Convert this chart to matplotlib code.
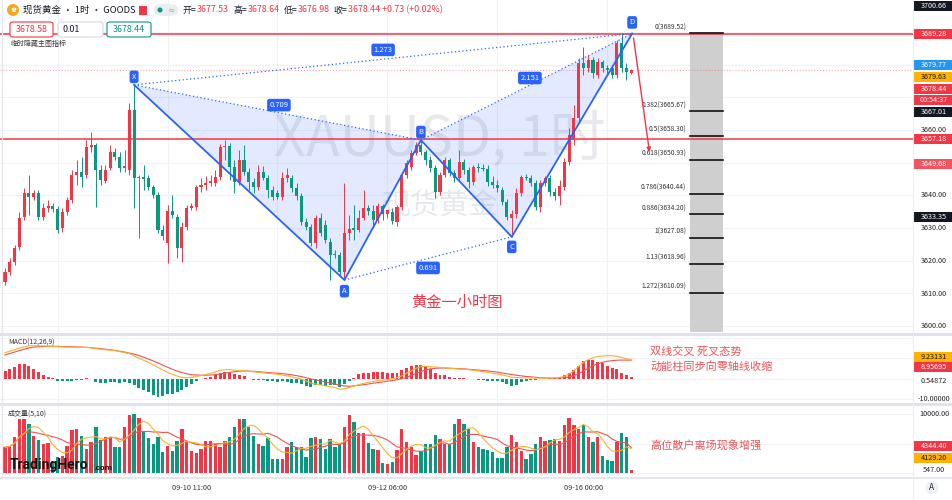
import matplotlib
matplotlib.use('Agg')
import matplotlib.pyplot as plt
from matplotlib.patches import Rectangle, FancyBboxPatch, Polygon, Ellipse
from matplotlib.lines import Line2D
import matplotlib.transforms as mtrans
import pandas as pd

plt.rcParams['font.family'] = ['Noto Sans CJK SC', 'DejaVu Sans']

W, H = 953, 500
RED = '#F23645'
GREEN = '#089981'
BLUE = '#2962FF'

# ---------------- data ----------------
opens = [3613.5, 3616.6, 3619.6, 3624.2, 3633.4, 3640.7, 3639.5, 3640.7, 3633.4, 3636.2,
         3636.8, 3635.8, 3630.0, 3634.9, 3638.6, 3646.2, 3647.2, 3646.2, 3654.8, 3655.4,
         3647.8, 3644.4, 3648.4, 3653.3, 3651.7, 3648.4, 3647.8, 3666.1, 3645.3, 3645.6,
         3645.3, 3642.6, 3640.1, 3629.4, 3625.5, 3635.2, 3633.4, 3623.9, 3630.3, 3636.2,
         3636.5, 3642.6, 3643.2, 3643.8, 3643.8, 3645.6, 3654.8, 3655.1, 3648.7, 3644.1,
         3650.8, 3647.2, 3644.1, 3642.6, 3647.2, 3645.3, 3641.7, 3640.7, 3639.5, 3645.3,
         3645.3, 3642.3, 3639.8, 3631.9, 3630.3, 3625.5, 3633.1, 3630.9, 3625.8, 3622.1,
         3621.8, 3616.6, 3628.5, 3630.0, 3629.4, 3633.1, 3636.2, 3635.2, 3632.5, 3636.8,
         3634.3, 3634.9, 3631.9, 3636.5, 3646.2, 3648.7, 3653.0, 3655.4, 3653.3, 3650.8,
         3648.4, 3641.1, 3646.2, 3650.8, 3646.9, 3645.3, 3650.2, 3647.8, 3644.1, 3648.7,
         3648.4, 3648.1, 3644.1, 3643.2, 3641.7, 3638.0, 3633.1, 3634.3, 3640.7, 3645.6,
         3645.3, 3643.8, 3636.5, 3643.8, 3645.3, 3641.1, 3639.8, 3642.6, 3650.2, 3656.9,
         3663.7, 3680.5, 3679.0, 3681.4, 3676.8, 3680.8, 3679.0, 3679.0, 3676.8, 3686.6,
         3679.0, 3677.53]
highs = [3617.8, 3620.9, 3624.8, 3634.9, 3642.3, 3646.2, 3641.7, 3641.7, 3637.7, 3638.6,
         3637.7, 3636.8, 3636.2, 3639.5, 3647.8, 3650.8, 3651.7, 3656.9, 3659.4, 3656.0,
         3649.3, 3649.3, 3655.4, 3654.5, 3653.3, 3653.9, 3668.3, 3673.8, 3646.2, 3649.3,
         3646.2, 3643.2, 3641.1, 3630.9, 3637.1, 3640.1, 3634.3, 3631.9, 3637.1, 3637.7,
         3643.2, 3645.3, 3645.9, 3646.2, 3647.8, 3655.7, 3656.9, 3656.0, 3650.8, 3653.9,
         3655.4, 3648.4, 3645.3, 3649.3, 3649.0, 3646.2, 3642.9, 3641.7, 3647.2, 3648.4,
         3646.2, 3643.8, 3640.7, 3633.1, 3631.3, 3634.0, 3634.6, 3632.5, 3627.0, 3623.3,
         3622.7, 3643.8, 3634.0, 3637.1, 3635.5, 3641.7, 3637.1, 3637.1, 3637.7, 3637.4,
         3635.5, 3636.2, 3637.1, 3647.2, 3650.8, 3653.9, 3656.3, 3656.9, 3653.9, 3652.1,
         3649.3, 3647.2, 3651.7, 3651.4, 3647.8, 3653.9, 3651.1, 3648.7, 3649.3, 3649.9,
         3649.6, 3649.3, 3645.9, 3644.7, 3642.6, 3638.9, 3635.5, 3642.3, 3646.2, 3646.6,
         3646.2, 3644.7, 3644.7, 3645.9, 3646.2, 3642.3, 3644.7, 3651.4, 3660.6, 3667.6,
         3682.0, 3685.4, 3683.0, 3682.3, 3682.0, 3681.4, 3679.9, 3679.9, 3687.5, 3689.7,
         3680.5, 3678.64]
lows = [3612.6, 3615.7, 3618.7, 3623.3, 3632.5, 3634.0, 3638.6, 3632.5, 3632.5, 3634.9,
        3634.9, 3628.5, 3628.8, 3634.0, 3637.7, 3643.2, 3642.6, 3645.3, 3653.3, 3636.5,
        3643.2, 3643.8, 3647.8, 3650.8, 3647.2, 3647.2, 3646.2, 3636.2, 3627.0, 3641.7,
        3641.7, 3639.2, 3628.5, 3626.4, 3619.3, 3633.1, 3620.9, 3619.6, 3629.4, 3635.5,
        3635.5, 3641.1, 3641.7, 3642.9, 3642.9, 3644.7, 3650.8, 3644.7, 3640.7, 3643.2,
        3646.2, 3641.7, 3640.7, 3641.7, 3644.7, 3639.2, 3638.6, 3638.9, 3638.6, 3644.1,
        3641.1, 3638.6, 3630.9, 3629.4, 3624.5, 3623.9, 3627.6, 3625.5, 3614.1, 3620.9,
        3615.7, 3614.1, 3626.4, 3626.4, 3628.8, 3632.5, 3634.0, 3630.9, 3631.6, 3632.5,
        3633.1, 3631.3, 3630.7, 3635.5, 3645.3, 3647.8, 3652.4, 3652.4, 3649.3, 3647.2,
        3639.2, 3640.1, 3645.6, 3645.9, 3644.1, 3644.7, 3646.6, 3642.3, 3643.2, 3647.2,
        3647.5, 3642.9, 3642.3, 3641.1, 3637.1, 3632.5, 3627.3, 3633.1, 3639.8, 3644.7,
        3642.9, 3635.5, 3634.9, 3642.9, 3639.8, 3638.6, 3637.1, 3641.7, 3649.3, 3655.4,
        3662.5, 3676.8, 3677.7, 3675.9, 3675.9, 3677.7, 3677.1, 3675.9, 3675.9, 3677.7,
        3675.3, 3676.98]
closes = [3616.6, 3619.6, 3623.9, 3633.1, 3640.7, 3639.5, 3640.7, 3633.4, 3636.2, 3636.8,
          3635.8, 3629.4, 3634.9, 3638.6, 3646.2, 3647.2, 3645.6, 3654.8, 3655.4, 3647.8,
          3644.7, 3647.8, 3653.3, 3651.7, 3648.4, 3649.0, 3666.1, 3645.3, 3645.6, 3645.0,
          3642.6, 3640.1, 3629.4, 3627.6, 3635.2, 3634.0, 3623.9, 3630.3, 3636.2, 3636.8,
          3642.6, 3643.2, 3643.8, 3644.4, 3645.6, 3654.8, 3655.1, 3648.7, 3644.1, 3650.8,
          3647.2, 3644.1, 3642.6, 3647.2, 3645.3, 3641.7, 3639.5, 3639.5, 3645.3, 3646.2,
          3642.3, 3639.8, 3631.9, 3630.3, 3625.5, 3633.1, 3628.5, 3626.4, 3621.8, 3621.8,
          3616.6, 3628.5, 3629.7, 3629.4, 3633.1, 3636.2, 3635.2, 3632.5, 3636.8, 3634.3,
          3635.5, 3632.2, 3636.5, 3646.2, 3649.9, 3653.0, 3655.4, 3653.3, 3650.8, 3648.4,
          3641.1, 3646.2, 3650.8, 3646.9, 3645.3, 3650.2, 3647.8, 3644.1, 3648.7, 3648.4,
          3648.1, 3644.1, 3643.2, 3642.3, 3638.0, 3633.4, 3634.3, 3640.7, 3645.6, 3645.3,
          3643.8, 3636.5, 3643.8, 3645.3, 3641.1, 3639.8, 3642.9, 3650.2, 3658.5, 3663.7,
          3680.5, 3679.0, 3681.4, 3677.4, 3680.8, 3679.0, 3678.4, 3676.8, 3686.6, 3679.0,
          3677.7, 3678.44]
volumes = [4370, 4650, 6200, 9250, 9250, 8390, 6380, 5630, 4940, 5060,
           1780, 2640, 2930, 4650, 7240, 7530, 6380, 4080, 5230, 7820,
           5630, 6090, 5970, 4370, 4370, 7820, 9830, 10110, 9420, 6950,
           5970, 4940, 6090, 3510, 4650, 3790, 5520, 7530, 5520, 3790,
           3330, 4080, 5520, 5520, 4940, 4370, 5520, 6090, 7820, 9250,
           9250, 7820, 6380, 4940, 4650, 5970, 2360, 2360, 2360, 4480,
           5230, 4370, 4370, 2640, 5970, 6090, 5800, 4080, 5800, 4370,
           4940, 7820, 9830, 8680, 6840, 6840, 5110, 4080, 3960, 1610,
           1490, 1780, 3910, 7530, 5230, 4370, 3100, 3790, 4940, 4940,
           6550, 5800, 4940, 4940, 8390, 9250, 8280, 7410, 5230, 4480,
           4080, 3960, 3510, 2470, 2470, 4370, 6490, 5340, 3790, 2360,
           3220, 4940, 6200, 5520, 5630, 5800, 5520, 8100, 9420, 8100,
           7530, 8220, 6090, 5230, 6200, 2930, 2240, 1950, 5230, 6840,
           6090, 547]
macd_hist = [3.9, 4.6, 5.6, 7.1, 7.1, 6.2, 4.6, 3.1, 1.7, 0.9,
             0.2, -1.2, -1.3, -1.4, -1.0, -0.5, -0.8, 0.3, -0.3, -1.8,
             -2.0, -2.0, -1.8, -1.8, -2.2, -1.6, -2.3, -3.0, -4.8, -5.6,
             -6.6, -8.2, -8.8, -8.5, -7.8, -7.5, -6.7, -5.5, -4.2, -2.5,
             -1.2, -0.4, 0.2, 0.8, 1.7, 2.9, 3.4, 2.9, 2.2, 1.7,
             1.4, -0.3, -0.5, -0.8, -0.9, -1.2, -1.2, -1.5, -1.3, -1.6,
             -2.0, -2.2, -2.5, -3.5, -4.0, -3.2, -3.0, -3.5, -3.0, -3.0,
             -4.0, -2.8, -1.0, 0.3, 2.2, 2.9, 2.9, 3.4, 3.4, 3.2,
             2.9, 2.9, 2.5, 4.2, 5.1, 6.2, 6.7, 6.7, 6.2, 4.6,
             2.9, 1.7, 1.7, 0.9, 0.3, 0.2, 0.3, -0.2, -0.3, -0.5,
             -0.8, -1.0, -1.2, -1.4, -1.6, -2.8, -3.8, -3.4, -1.6, -1.2,
             -0.9, -0.6, -0.4, -0.2, 0.1, 0.2, 0.3, 1.7, 2.5, 4.2,
             5.9, 8.4, 9.2, 8.9, 7.9, 7.5, 5.9, 5.1, 4.6, 2.9,
             1.7, 0.55]
macd_dif = [12.6, 13.3, 14.0, 14.8, 15.4, 15.9, 16.0, 16.0, 15.9, 15.8,
            15.7, 15.5, 15.4, 15.3, 15.3, 15.3, 15.2, 15.2, 15.0, 14.6,
            14.3, 14.0, 13.9, 13.6, 13.1, 12.6, 12.2, 11.0, 9.9, 8.9,
            7.8, 6.7, 5.4, 4.2, 3.0, 2.0, 1.2, 0.6, 0.3, 0.5,
            1.0, 1.4, 1.9, 2.6, 3.2, 4.0, 4.3, 4.3, 4.1, 3.9,
            3.8, 3.5, 3.3, 3.0, 2.8, 2.5, 2.3, 2.0, 1.7, 1.3,
            0.8, 0.3, -0.4, -1.2, -2.2, -2.7, -3.1, -3.6, -4.0, -4.4,
            -5.3, -5.0, -4.4, -3.7, -3.0, -2.4, -1.9, -1.5, -1.1, -0.8,
            -0.5, -0.1, 0.4, 1.3, 2.6, 3.8, 5.0, 5.8, 6.0, 5.8,
            5.6, 5.4, 5.2, 5.0, 4.8, 4.6, 4.5, 4.3, 4.0, 3.7,
            3.3, 3.0, 2.6, 2.2, 1.8, 1.2, 0.6, 0.5, 0.4, 0.4,
            0.3, 0.2, 0.2, 0.2, 0.2, 0.3, 0.5, 1.1, 2.2, 3.7,
            5.9, 7.9, 9.2, 10.1, 10.7, 11.0, 11.1, 11.1, 10.8, 10.2,
            9.7, 9.23]
macd_dea = [11.5, 12.2, 12.9, 13.6, 14.3, 14.9, 15.3, 15.5, 15.6, 15.7,
            15.7, 15.7, 15.6, 15.6, 15.5, 15.4, 15.3, 15.2, 15.0, 14.8,
            14.6, 14.3, 14.0, 13.7, 13.3, 12.9, 12.4, 11.9, 11.2, 10.4,
            9.5, 8.6, 7.6, 6.5, 5.5, 4.5, 3.6, 2.9, 2.3, 1.9,
            1.7, 1.6, 1.6, 1.7, 1.9, 2.2, 2.6, 3.0, 3.3, 3.6,
            3.7, 3.6, 3.5, 3.3, 3.1, 2.9, 2.7, 2.6, 2.4, 2.1,
            1.8, 1.4, 0.9, 0.4, -0.2, -0.7, -1.2, -1.7, -2.2, -2.7,
            -3.2, -3.6, -3.8, -3.6, -3.3, -3.0, -2.7, -2.3, -2.0, -1.7,
            -1.3, -1.0, -0.6, -0.1, 0.6, 1.5, 2.5, 3.4, 4.2, 4.7,
            5.0, 5.1, 5.1, 5.0, 4.9, 4.8, 4.7, 4.5, 4.3, 4.1,
            3.9, 3.7, 3.4, 3.1, 2.7, 2.3, 1.9, 1.6, 1.3, 1.0,
            0.8, 0.6, 0.4, 0.3, 0.2, 0.2, 0.3, 0.4, 0.8, 1.4,
            2.3, 3.6, 5.0, 6.2, 7.2, 7.9, 8.4, 8.7, 8.9, 9.0,
            9.0, 8.96]

time_tick_idx = [39, 80, 121]
time_tick_labels = ['09-10 11:00', '09-12 06:00', '09-16 00:00']
day_grid_idx = [11, 34, 57, 80, 103, 126]

pattern_names = ['X', 'A', 'B', 'C', 'D']
pattern_idx = [27, 71, 87, 106, 131.2]
pattern_price = [3673.8, 3614.1, 3656.9, 3627.3, 3689.5]
pattern_label_offset = [5.8, -8.0, 5.8, -7.2, 8.0]

ratio_texts = ['1.273', '0.709', '0.691', '2.151']
ratio_idx = [79.1, 57.3, 88.5, 109.8]
ratio_price = [3684.5, 3667.6, 3617.8, 3675.9]

fib_names = ['0', '0.382', '0.5', '0.618', '0.786', '0.886', '1', '1.13', '1.272']
fib_prices = [3689.52, 3665.67, 3658.30, 3650.93, 3640.44, 3634.20, 3627.08, 3618.96, 3610.09]
fib_span = [143.3, 150.2]

red_levels = [3689.28, 3657.18]
last_price = 3678.44
arrow_idx = [131.4, 134.9]
arrow_price = [3689.0, 3652.4]

price_ticks = [3600, 3610, 3620, 3630, 3640, 3660]

header_ohlc = [('开=', '3677.53'), ('高=', '3678.64'), ('低=', '3676.98'),
               ('收=', '3678.44 +0.73 (+0.02%)')]

# ---------------- figure ----------------
fig = plt.figure(figsize=(W / 100, H / 100), dpi=100)
fig.patch.set_facecolor('white')


def rect(x0, y0, x1, y1):
    return [x0 / W, 1 - y1 / H, (x1 - x0) / W, (y1 - y0) / H]


XL = (-1.05, 189.95)
ax_p = fig.add_axes(rect(0, 0, 913, 332))
ax_m = fig.add_axes(rect(0, 335, 913, 403))
ax_v = fig.add_axes(rect(0, 405, 913, 477))
for a in (ax_p, ax_m, ax_v):
    a.set_xlim(*XL)
    a.set_axis_off()
ax_p.set_ylim(3598.2, 3699.76)
ax_m.set_ylim(-11.95, 21.22)
ax_v.set_ylim(-726, 11605)

GRID = '#f0f2f7'
for a in (ax_p, ax_m, ax_v):
    for gi in day_grid_idx:
        a.axvline(gi, color=GRID, lw=0.8, zorder=0)
for p in range(3600, 3700, 10):
    ax_p.axhline(p, color=GRID, lw=0.8, zorder=0)
for m in (-10, 0, 10, 20):
    ax_m.axhline(m, color=GRID, lw=0.8, zorder=0)
for v in (0, 5000, 10000):
    ax_v.axhline(v, color=GRID, lw=0.8, zorder=0)

n = len(closes)
idx = list(range(n))
cols = [RED if closes[i] >= opens[i] else GREEN for i in idx]

# watermark
ax_p.text(0.482, 0.578, 'XAUUSD, 1时', transform=ax_p.transAxes, ha='center', va='center',
          fontsize=40, color='#c9cbd2', alpha=0.42, zorder=0)
ax_p.text(0.482, 0.383, '现货黄金', transform=ax_p.transAxes, ha='center', va='center',
          fontsize=21, color='#c9cbd2', alpha=0.42, zorder=0)

# harmonic pattern fills
ax_p.add_patch(Polygon(list(zip(pattern_idx[0:3], pattern_price[0:3])), closed=True,
                       fc=BLUE, alpha=0.13, ec='none', zorder=1))
ax_p.add_patch(Polygon(list(zip(pattern_idx[2:5], pattern_price[2:5])), closed=True,
                       fc=BLUE, alpha=0.13, ec='none', zorder=1))

# candles
ax_p.vlines(idx, lows, highs, colors=cols, lw=0.7, zorder=3)
bodies = [max(abs(closes[i] - opens[i]), 0.25) for i in idx]
bottoms = [min(closes[i], opens[i]) for i in idx]
ax_p.bar(idx, bodies, bottom=bottoms, width=0.64, color=cols, zorder=3)

# pattern lines
ax_p.plot(pattern_idx, pattern_price, color=BLUE, lw=1.3, zorder=4)
dots = (0, (1, 2))
for a_, b_ in ((0, 2), (1, 3), (2, 4), (0, 4)):
    ax_p.plot([pattern_idx[a_], pattern_idx[b_]], [pattern_price[a_], pattern_price[b_]],
              color=BLUE, lw=0.9, ls=dots, zorder=4)
for nm, xi, yi, off in zip(pattern_names, pattern_idx, pattern_price, pattern_label_offset):
    ax_p.annotate(nm, (xi, yi), xytext=(0, off), textcoords='offset points', ha='center',
                  va='center', fontsize=5.5, color='white', zorder=6,
                  bbox=dict(boxstyle='round,pad=0.3', fc=BLUE, ec='none'))
for t, xi, yi in zip(ratio_texts, ratio_idx, ratio_price):
    ax_p.text(xi, yi, t, ha='center', va='center', fontsize=5.5, color='white', zorder=6,
              bbox=dict(boxstyle='round,pad=0.3', fc=BLUE, ec='none'))

# horizontal levels
for lv in red_levels:
    ax_p.axhline(lv, color=RED, lw=1.1, zorder=2)
ax_p.axhline(last_price, color=RED, lw=0.7, ls=(0, (1, 2)), alpha=0.5, zorder=2)

# fib tool
ax_p.add_patch(Rectangle((fib_span[0], 3598.2), fib_span[1] - fib_span[0],
                         fib_prices[0] - 3598.2, fc='#cfcfcf', ec='none', zorder=1))
for nm, fp in zip(fib_names, fib_prices):
    ax_p.plot(fib_span, [fp, fp], color='#111111', lw=1.2, zorder=2)
    ax_p.annotate(f'{nm}({fp:.2f})', (fib_span[0] - 0.8, fp), xytext=(0, 1.5),
                  textcoords='offset points', ha='right', va='bottom', fontsize=4.8,
                  color='#333333')

# arrow
ax_p.annotate('', xy=(arrow_idx[1], arrow_price[1]), xytext=(arrow_idx[0], arrow_price[0]),
              arrowprops=dict(arrowstyle='-|>', color=RED, lw=1.0, mutation_scale=6),
              zorder=5)

ax_p.text(0.5005, 0.09, '黄金一小时图', transform=ax_p.transAxes, ha='center', va='center',
          fontsize=11, color=RED)

# MACD pane
hcols = [RED if h >= 0 else GREEN for h in macd_hist]
ax_m.bar(idx, macd_hist, width=0.62, color=hcols, zorder=2)
ax_m.plot(idx, macd_dea, color='#EF5350', lw=0.8, zorder=3)
ax_m.plot(idx, macd_dif, color='#F9B233', lw=0.8, zorder=3)

# Volume pane
vs = pd.Series(volumes, dtype=float)
ma5 = vs.rolling(5, min_periods=1).mean()
ma10 = vs.rolling(10, min_periods=1).mean()
ax_v.bar(idx, volumes, width=0.7, color=cols, zorder=2)
ax_v.plot(idx, ma10, color='#EF5350', lw=0.8, zorder=3)
ax_v.plot(idx, ma5, color='#F9B233', lw=0.8, zorder=3)

# separators
SEP = '#e0e3eb'
for yy, lw in ((333.5, 2.2), (404, 2.2), (478, 1.2)):
    fig.add_artist(Line2D([0, 1], [1 - yy / H, 1 - yy / H], transform=fig.transFigure,
                          color=SEP, lw=lw))
fig.add_artist(Line2D([913.5 / W, 913.5 / W], [0, 1], transform=fig.transFigure,
                      color='#eceef3', lw=0.8))
fig.add_artist(Line2D([2.5 / W, 2.5 / W], [1 - 478 / H, 1], transform=fig.transFigure,
                      color='#e6e8ee', lw=1.0))


# right-scale labels
def scale_label(ypx, text, bg=None, fg='#222222'):
    if bg is not None:
        fig.add_artist(Rectangle((914 / W, 1 - (ypx + 5.2) / H), 39 / W, 10.4 / H,
                                 transform=fig.transFigure, fc=bg, ec='none'))
    fig.text(934 / W, 1 - ypx / H, text, ha='center', va='center', fontsize=5.2, color=fg)


to_px = lambda p: (3699.76 - p) / 0.30581
for p in price_ticks:
    scale_label(to_px(p), f'{p:.2f}')
scale_label(6, '3700.66', '#131722', 'white')
scale_label(34, '3689.28', RED, 'white')
scale_label(65, '3679.77', '#2196F3', 'white')
scale_label(77, '3679.63', '#FFB300', '#111111')
scale_label(89, '3678.44', RED, 'white')
scale_label(100, '00:54:37', RED, 'white')
scale_label(112, '3667.01', '#131722', 'white')
scale_label(139, '3657.18', RED, 'white')
scale_label(164, '3649.68', '#F7525F', 'white')
scale_label(217, '3633.35', '#131722', 'white')
scale_label(357, '9.23131', '#FFB300', '#111111')
scale_label(367, '8.95695', RED, 'white')
scale_label(381, '0.54872')
scale_label(399, '-10.00000')
scale_label(414, '10000.00')
scale_label(446, '4344.40', RED, 'white')
scale_label(458, '4129.20', '#FFB300', '#111111')
scale_label(470, '547.00')

# time axis
tb = mtrans.blended_transform_factory(ax_v.transData, fig.transFigure)
for ti, tl in zip(time_tick_idx, time_tick_labels):
    ax_v.text(ti, 1 - 488 / H, tl, transform=tb, ha='center', va='center', fontsize=5.3,
              color='#333333', clip_on=False)
fig.add_artist(Ellipse((932 / W, 1 - 488 / H), 13 / W, 13 / H, transform=fig.transFigure,
                       fc='#eef0f4', ec='none'))
fig.text(932 / W, 1 - 488 / H, 'A', ha='center', va='center', fontsize=6, color='#222222')

# header
fig.add_artist(Ellipse((13 / W, 1 - 10 / H), 12 / W, 12 / H, transform=fig.transFigure,
                       fc='#F5A623', ec='none'))
fig.text(13 / W, 1 - 10 / H, '♚', ha='center', va='center', fontsize=5, color='white',
         family='DejaVu Sans')
fig.text(23 / W, 1 - 10 / H, '现货黄金 · 1时 · GOODS', ha='left', va='center',
         fontsize=6.8, color='#131722')
fig.add_artist(Rectangle((139 / W, 1 - 15 / H), 8 / W, 9 / H, transform=fig.transFigure,
                         fc=RED, ec='none'))
fig.add_artist(FancyBboxPatch((154 / W, 1 - 16 / H), 24 / W, 12 / H,
                              boxstyle='round,pad=0,rounding_size=0.01',
                              transform=fig.transFigure, fc='#e9ecf2', ec='none'))
fig.add_artist(Ellipse((160 / W, 1 - 10 / H), 5 / W, 5 / H, transform=fig.transFigure,
                       fc=GREEN, ec='none'))
fig.text(171 / W, 1 - 10 / H, '≈', ha='center', va='center', fontsize=6, color='#D8A23A',
         family='DejaVu Sans')

# sequential header OHLC text, measured so pieces never overlap
renderer = fig.canvas.get_renderer()
xcur = 183.0
for lab, val in header_ohlc:
    for t, c in ((lab, '#131722'), (val, RED)):
        tt = fig.text(xcur / W, 1 - 10 / H, t, ha='left', va='center', fontsize=6.4, color=c)
        bb = tt.get_window_extent(renderer=renderer)
        xcur += bb.width + 0.5
    xcur += 3.5

for x0, x1, ec, t, tc, ha, tx in ((10, 53, RED, '3678.58', RED, 'center', 31.5),
                                   (58, 103, '#d6d9e0', '0.01', '#131722', 'left', 63),
                                   (107, 151, GREEN, '3678.44', GREEN, 'center', 129)):
    fig.add_artist(FancyBboxPatch((x0 / W, 1 - 37 / H), (x1 - x0) / W, 15 / H,
                                  boxstyle='round,pad=0,rounding_size=0.004',
                                  transform=fig.transFigure, fc='white', ec=ec, lw=0.8))
    fig.text(tx / W, 1 - 29.5 / H, t, ha=ha, va='center', fontsize=6.4, color=tc)
fig.text(10 / W, 1 - 44 / H, '临时隐藏主图指标', ha='left', va='center', fontsize=5,
         color='#333333')

# pane titles and notes
fig.text(8 / W, 1 - 343 / H, 'MACD(12,26,9)', ha='left', va='center', fontsize=5,
         color='#333333')
fig.text(8 / W, 1 - 414 / H, '成交量(5,10)', ha='left', va='center', fontsize=5,
         color='#333333')
NOTE = '#EE5257'
fig.text(650 / W, 1 - 352 / H, '双线交叉 死叉态势', ha='left', va='center', fontsize=8,
         color=NOTE)
fig.text(650 / W, 1 - 366 / H, '动能柱同步向零轴线收缩', ha='left', va='center', fontsize=8,
         color=NOTE)
fig.text(650 / W, 1 - 446 / H, '高位散户离场现象增强', ha='left', va='center', fontsize=8,
         color=NOTE)

# logo
fig.text(10 / W, 1 - 465 / H, 'TradingHero', ha='left', va='center', fontsize=10,
         fontweight='bold', color='#111111', family='Roboto')
fig.text(93 / W, 1 - 467 / H, '.com', ha='left', va='center', fontsize=6,
         fontweight='bold', color='#111111', family='Roboto')

fig.savefig('out.png', dpi=100, facecolor='white')
